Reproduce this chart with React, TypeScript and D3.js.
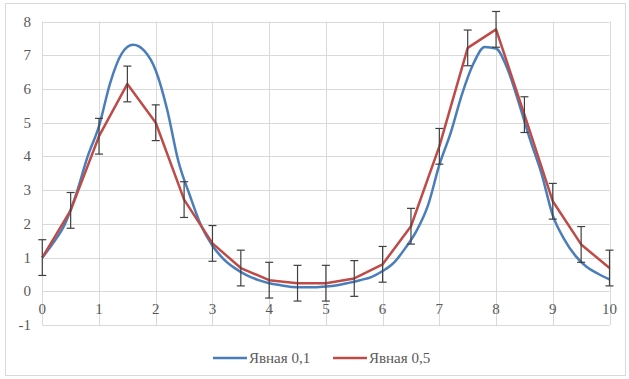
import React, { useEffect, useRef } from 'react'
import * as d3 from 'd3'

// x positions of the two series
const xFine = d3.range(0, 51).map((i) => i * 0.2)
const yFine = [
  1.0, 1.45, 2.0, 2.9, 4.0, 4.9, 6.2, 7.05, 7.31, 7.13,
  6.55, 5.4, 3.85, 2.85, 1.95, 1.35, 0.95, 0.68, 0.48, 0.34,
  0.24, 0.18, 0.13, 0.12, 0.12, 0.14, 0.18, 0.25, 0.33, 0.42,
  0.6, 0.85, 1.28, 1.8, 2.55, 3.75, 4.7, 5.85, 6.75, 7.25,
  7.2, 6.6, 5.6, 4.5, 3.5, 2.25, 1.55, 1.05, 0.72, 0.52,
  0.35,
]

const xCoarse = d3.range(0, 21).map((i) => i * 0.5)
const yCoarse = [
  1.0, 2.4, 4.6, 6.15, 5.0, 2.72, 1.42, 0.69, 0.33, 0.24,
  0.24, 0.38, 0.8, 1.93, 4.3, 7.22, 7.77, 5.24, 2.67, 1.39,
  0.69,
]
const errCoarse = 0.53

const xTicks = d3.range(0, 11)
const yTicks = d3.range(-1, 9)
const seriesNames = ['Явная 0,1', 'Явная 0,5']
const colors = ['#4a7ebb', '#be4b48']

export default function App() {
  const ref = useRef<SVGSVGElement>(null)

  useEffect(() => {
    const width = 629
    const height = 379
    const svg = d3.select(ref.current)
    svg.selectAll('*').remove()

    const x = d3.scaleLinear().domain([0, 10]).range([42.3, 609.5])
    const y = d3.scaleLinear().domain([-1, 8]).range([325, 21.6])

    svg.append('rect').attr('width', width).attr('height', height).attr('fill', '#fff')
    svg.append('rect')
      .attr('x', 5.5).attr('y', 3.5).attr('width', 620).attr('height', 372)
      .attr('fill', 'none').attr('stroke', '#d9d9d9')

    // grid
    const grid = svg.append('g').attr('stroke', '#d9d9d9').attr('stroke-width', 1)
    yTicks.forEach((t) => {
      grid.append('line')
        .attr('x1', x(0)).attr('x2', x(10))
        .attr('y1', Math.round(y(t)) + 0.5).attr('y2', Math.round(y(t)) + 0.5)
    })
    xTicks.forEach((t) => {
      grid.append('line')
        .attr('x1', Math.round(x(t)) + 0.5).attr('x2', Math.round(x(t)) + 0.5)
        .attr('y1', y(8)).attr('y2', y(-1))
    })

    const font = 'Liberation Serif, DejaVu Serif, serif'
    svg.append('g').selectAll('text').data(yTicks).enter().append('text')
      .attr('x', 31).attr('y', (d) => y(d) + 5)
      .attr('text-anchor', 'end')
      .attr('font-family', font).attr('font-size', 15).attr('fill', '#595959')
      .text((d) => d)

    svg.append('g').selectAll('text').data(xTicks).enter().append('text')
      .attr('x', (d) => x(d)).attr('y', y(0) + 23)
      .attr('text-anchor', 'middle')
      .attr('font-family', font).attr('font-size', 15).attr('fill', '#595959')
      .text((d) => d)

    // blue fine series
    const lineFine = d3.line<number>()
      .x((d, i) => x(xFine[i]))
      .y((d) => y(d))
      .curve(d3.curveMonotoneX)
    svg.append('path').datum(yFine)
      .attr('d', lineFine).attr('fill', 'none')
      .attr('stroke', colors[0]).attr('stroke-width', 2.5)
      .attr('stroke-linejoin', 'round')

    // red coarse series
    const lineCoarse = d3.line<number>()
      .x((d, i) => x(xCoarse[i]))
      .y((d) => y(d))
    svg.append('path').datum(yCoarse)
      .attr('d', lineCoarse).attr('fill', 'none')
      .attr('stroke', colors[1]).attr('stroke-width', 2.5)
      .attr('stroke-linejoin', 'round')

    // error bars
    const eb = svg.append('g').attr('stroke', '#404040').attr('stroke-width', 1.2)
    yCoarse.forEach((v, i) => {
      const cx = x(xCoarse[i])
      const y1 = y(v + errCoarse)
      const y2 = y(v - errCoarse)
      eb.append('line').attr('x1', cx).attr('x2', cx).attr('y1', y1).attr('y2', y2)
      eb.append('line').attr('x1', cx - 4).attr('x2', cx + 4).attr('y1', y1).attr('y2', y1)
      eb.append('line').attr('x1', cx - 4).attr('x2', cx + 4).attr('y1', y2).attr('y2', y2)
    })

    // legend
    const legendX = [213, 333]
    seriesNames.forEach((name, i) => {
      svg.append('line')
        .attr('x1', legendX[i]).attr('x2', legendX[i] + 34)
        .attr('y1', 358).attr('y2', 358)
        .attr('stroke', colors[i]).attr('stroke-width', 2.5)
      svg.append('text')
        .attr('x', legendX[i] + 36).attr('y', 363)
        .attr('font-family', font).attr('font-size', 15).attr('fill', '#595959')
        .text(name)
    })
  }, [])

  return (
    <svg ref={ref} width={629} height={379}
      style={{ position: 'absolute', left: 0, top: 0 }} />
  )
}
